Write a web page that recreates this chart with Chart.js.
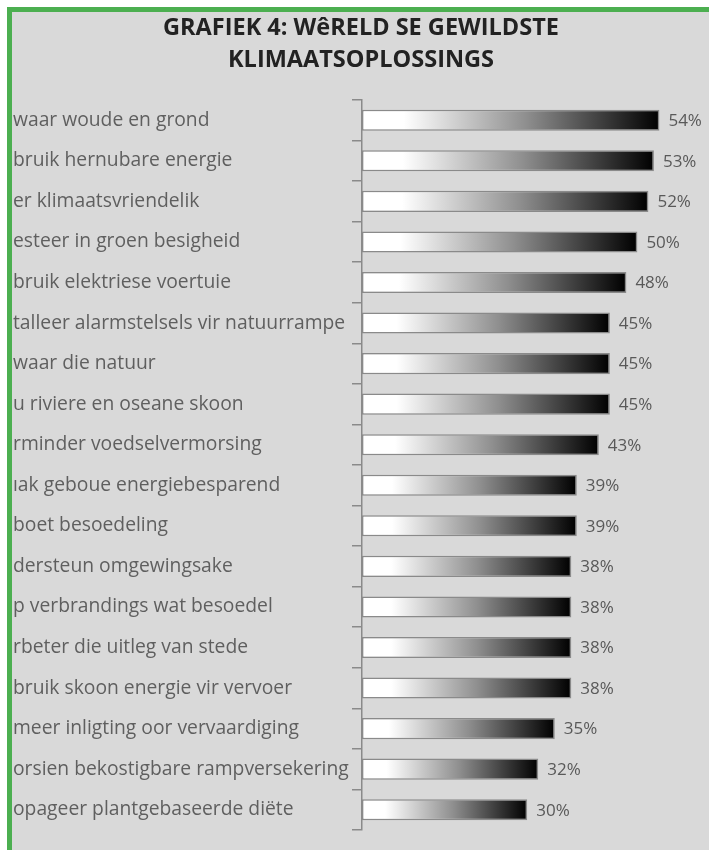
<!DOCTYPE html>
<html>
<head>
<meta charset="utf-8">
<script src="https://cdn.jsdelivr.net/npm/chart.js@4"></script>
<style>
  body { margin: 0; background: #fff; width: 709px; height: 850px; overflow: hidden; position: relative; }
  .frame {
    position: absolute; left: 7px; top: 7px; right: -10px; bottom: -10px;
    border-left: 5px solid #4caf50; border-top: 5px solid #4caf50;
    background: #d9d9d9;
  }
  #chart { position: absolute; left: 13px; top: 0; }
</style>
</head>
<body>
<div class="frame"></div>
<canvas id="chart" width="696" height="850"></canvas>
<script>
const titleLines = ["GRAFIEK 4: WêRELD SE GEWILDSTE", "KLIMAATSOPLOSSINGS"];

const labels = [
  "waar woude en grond",
  "bruik hernubare energie",
  "er klimaatsvriendelik",
  "esteer in groen besigheid",
  "bruik elektriese voertuie",
  "talleer alarmstelsels vir natuurrampe",
  "waar die natuur",
  "u riviere en oseane skoon",
  "rminder voedselvermorsing",
  "ıak geboue energiebesparend",
  "boet besoedeling",
  "dersteun omgewingsake",
  "p verbrandings wat besoedel",
  "rbeter die uitleg van stede",
  "bruik skoon energie vir vervoer",
  "meer inligting oor vervaardiging",
  "orsien bekostigbare rampversekering",
  "opageer plantgebaseerde diëte"
];

const values = [54, 53, 52, 50, 48, 45, 45, 45, 43, 39, 39, 38, 38, 38, 38, 35, 32, 30];

const ctx = document.getElementById("chart");

// white-to-black fill along each bar's own length
function barGradient(context) {
  const chart = context.chart;
  if (!chart.chartArea) return "#888";
  const xScale = chart.scales.x;
  const x0 = xScale.getPixelForValue(0);
  const x1 = xScale.getPixelForValue(context.raw);
  const g = chart.ctx.createLinearGradient(x0, 0, x1, 0);
  g.addColorStop(0, "#ffffff");
  g.addColorStop(0.14, "#ffffff");
  g.addColorStop(0.55, "#8f8f8f");
  g.addColorStop(1, "#000000");
  return g;
}

const valueLabels = {
  id: "valueLabels",
  afterDatasetsDraw(chart) {
    const c = chart.ctx;
    const meta = chart.getDatasetMeta(0);
    c.save();
    c.font = "17px 'Open Sans'";
    c.fillStyle = "#595959";
    c.textAlign = "left";
    c.textBaseline = "middle";
    meta.data.forEach((bar, i) => {
      c.fillText(values[i] + "%", bar.x + 9, bar.y + 1);
    });
    c.restore();
  }
};

new Chart(ctx, {
  type: "bar",
  data: {
    labels: labels,
    datasets: [
      {
        data: values,
        backgroundColor: barGradient,
        borderColor: "#8a8a8a",
        borderWidth: 1.5,
        borderSkipped: false,
        barPercentage: 0.52,
        categoryPercentage: 1
      }
    ]
  },
  options: {
    indexAxis: "y",
    responsive: false,
    animation: false,
    layout: { padding: { left: 0, right: 0, bottom: 20, top: 0 } },
    plugins: {
      legend: { display: false },
      tooltip: { enabled: false },
      title: {
        display: true,
        text: titleLines,
        color: "#222222",
        font: { family: "'Open Sans'", size: 23.5, weight: "bold", lineHeight: 1.34 },
        padding: { top: 13, bottom: 24 }
      }
    },
    scales: {
      x: { display: false, min: 0, max: 63 },
      y: {
        afterFit(scale) { scale.width = 349; },
        grid: {
          offset: true,
          drawOnChartArea: false,
          color: "#8a8a8a",
          lineWidth: 1.5,
          tickLength: 10
        },
        border: { display: true, color: "#8a8a8a", width: 1.5 },
        ticks: {
          crossAlign: "far",
          color: "#5f5f5f",
          font: { family: "'Open Sans'", size: 19.3 }
        }
      }
    }
  },
  plugins: [valueLabels]
});
</script>
</body>
</html>
